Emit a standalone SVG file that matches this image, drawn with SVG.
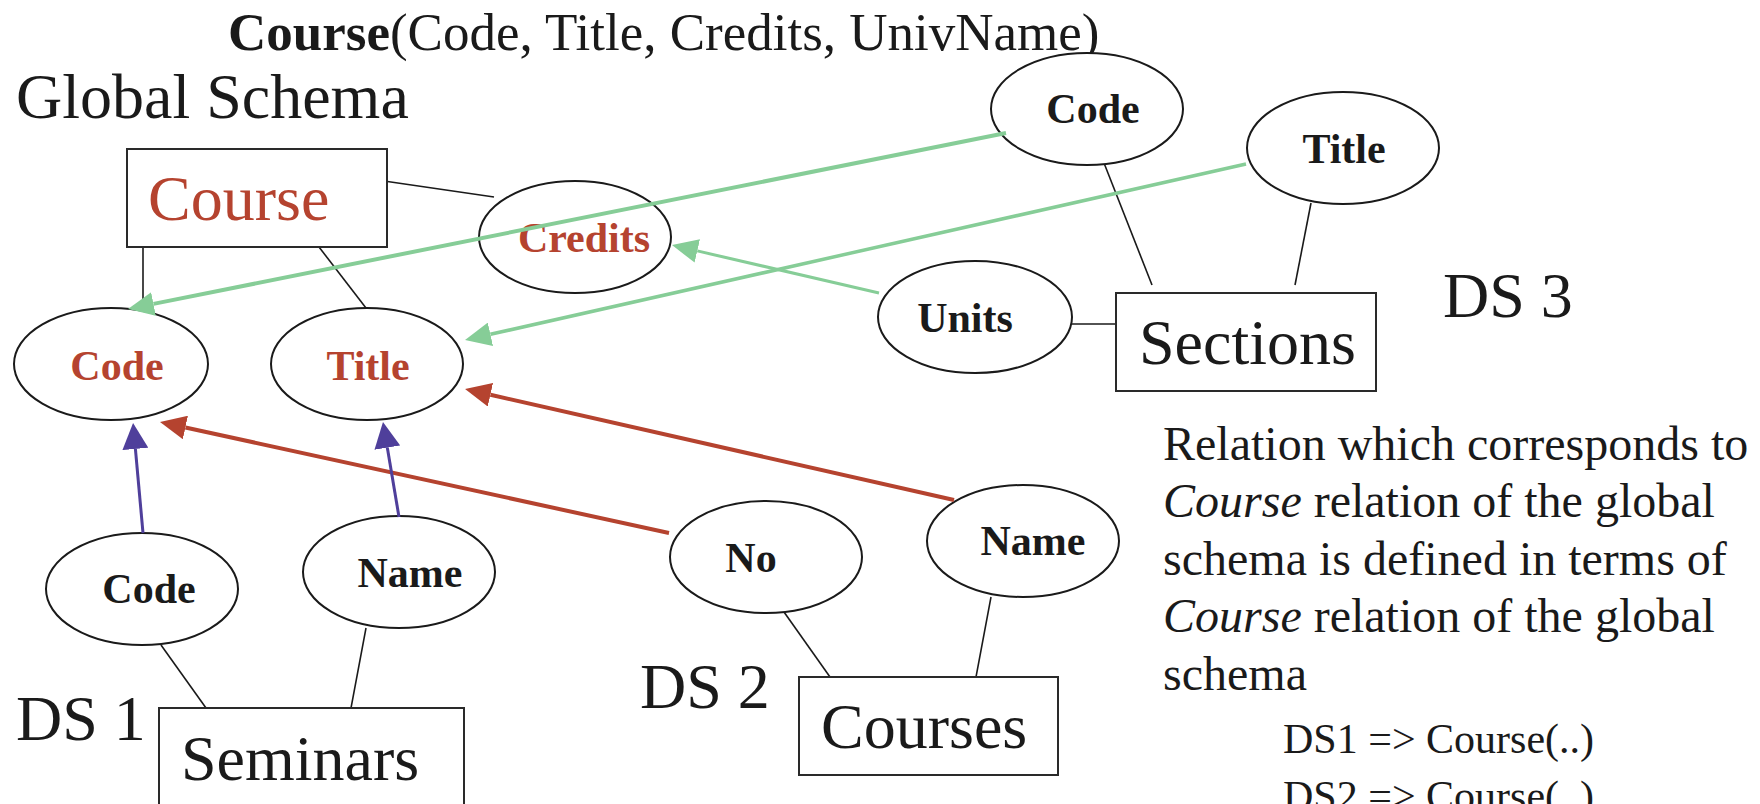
<svg xmlns="http://www.w3.org/2000/svg" width="1760" height="804" viewBox="0 0 1760 804">
  <style>
    text { font-family: "Liberation Serif", "Times New Roman", serif; fill: #1a1a1a; }
    .attr { font-size: 42px; font-weight: bold; text-anchor: middle; }
    .red { fill: #b5432f; }
    .ent { font-size: 64px; }
    .big { font-size: 64px; }
    .para { font-size: 48px; }
    .map { font-size: 42px; }
    ellipse { fill: #ffffff; stroke: #1a1a1a; stroke-width: 2; }
    rect.box { fill: #ffffff; stroke: #2a2a2a; stroke-width: 2; }
    .link { stroke: #1a1a1a; stroke-width: 1.6; fill: none; }
    .green { stroke: #86cd97; fill: none; }
    .redline { stroke: #b5432f; stroke-width: 4; fill: none; }
    .blue { stroke: #4f3f9b; stroke-width: 3; fill: none; }
  </style>
  <defs>
    <marker id="headGreen" markerUnits="userSpaceOnUse" markerWidth="27" markerHeight="24" refX="0" refY="12" orient="auto">
      <path d="M0,0 L26,12 L0,24 z" fill="#86cd97"/>
    </marker>
    <marker id="headRed" markerUnits="userSpaceOnUse" markerWidth="27" markerHeight="24" refX="0" refY="12" orient="auto">
      <path d="M0,0 L26,12 L0,24 z" fill="#b5432f"/>
    </marker>
    <marker id="headBlue" markerUnits="userSpaceOnUse" markerWidth="27" markerHeight="26" refX="0" refY="13" orient="auto">
      <path d="M0,0 L26,13 L0,26 z" fill="#4f3f9b"/>
    </marker>
  </defs>

  <rect width="1760" height="804" fill="#ffffff"/>

  <!-- headings -->
  <text x="228" y="50" font-size="53"><tspan font-weight="bold">Course</tspan>(Code, Title, Credits, UnivName)</text>
  <text x="16" y="118" class="big">Global Schema</text>
  <text x="1443" y="317" class="big">DS 3</text>
  <text x="640" y="708" class="big">DS 2</text>
  <text x="16" y="740" class="big">DS 1</text>

  <!-- entity-attribute links -->
  <g id="connectors">
    <line class="link" x1="384" y1="181" x2="494" y2="197"/>
    <line class="link" x1="143" y1="247" x2="143" y2="308"/>
    <line class="link" x1="319" y1="247" x2="366" y2="308"/>
    <line class="link" x1="1104" y1="163" x2="1152" y2="285"/>
    <line class="link" x1="1311" y1="203" x2="1295" y2="285"/>
    <line class="link" x1="1071" y1="324" x2="1118" y2="324"/>
    <line class="link" x1="161" y1="645" x2="206" y2="708"/>
    <line class="link" x1="366" y1="628" x2="351" y2="708"/>
    <line class="link" x1="784" y1="612" x2="830" y2="677"/>
    <line class="link" x1="991" y1="597" x2="976" y2="677"/>
  </g>

  <!-- nodes -->
  <g id="course">
    <rect class="box" x="127" y="149" width="260" height="98"/>
    <text x="148" y="220" class="ent red">Course</text>
  </g>
  <g id="credits">
    <ellipse cx="575" cy="237" rx="96" ry="56"/>
    <text x="584" y="252" class="attr red">Credits</text>
  </g>
  <g id="g-code">
    <ellipse cx="111" cy="364" rx="97" ry="56"/>
    <text x="117" y="380" class="attr red">Code</text>
  </g>
  <g id="g-title">
    <ellipse cx="367" cy="364" rx="96" ry="56"/>
    <text x="368" y="380" class="attr red">Title</text>
  </g>
  <g id="ds3-code">
    <ellipse cx="1087" cy="109" rx="96" ry="56"/>
    <text x="1093" y="123" class="attr">Code</text>
  </g>
  <g id="ds3-title">
    <ellipse cx="1343" cy="148" rx="96" ry="56"/>
    <text x="1344" y="163" class="attr">Title</text>
  </g>
  <g id="ds3-units">
    <ellipse cx="975" cy="317" rx="97" ry="56"/>
    <text x="965" y="332" class="attr">Units</text>
  </g>
  <g id="sections">
    <rect class="box" x="1116" y="293" width="260" height="98"/>
    <text x="1139" y="364" class="ent">Sections</text>
  </g>
  <g id="ds1-code">
    <ellipse cx="142" cy="589" rx="96" ry="56"/>
    <text x="149" y="603" class="attr">Code</text>
  </g>
  <g id="ds1-name">
    <ellipse cx="399" cy="572" rx="96" ry="56"/>
    <text x="410" y="587" class="attr">Name</text>
  </g>
  <g id="seminars">
    <rect class="box" x="159" y="708" width="305" height="130"/>
    <text x="181" y="780" class="ent">Seminars</text>
  </g>
  <g id="ds2-no">
    <ellipse cx="766" cy="557" rx="96" ry="56"/>
    <text x="751" y="572" class="attr">No</text>
  </g>
  <g id="ds2-name">
    <ellipse cx="1023" cy="541" rx="96" ry="56"/>
    <text x="1033" y="555" class="attr">Name</text>
  </g>
  <g id="courses">
    <rect class="box" x="799" y="677" width="259" height="98"/>
    <text x="821" y="748" class="ent">Courses</text>
  </g>

  <!-- mapping arrows -->
  <g id="mappings">
    <line class="green" stroke-width="4" x1="1006" y1="133" x2="153.5" y2="303.9" marker-end="url(#headGreen)"/>
    <line class="green" stroke-width="3.5" x1="1246" y1="164" x2="490.4" y2="334.3" marker-end="url(#headGreen)"/>
    <line class="green" stroke-width="3" x1="879" y1="293" x2="697.3" y2="250.9" marker-end="url(#headGreen)"/>
    <line class="redline" x1="669" y1="533" x2="185.4" y2="427.5" marker-end="url(#headRed)"/>
    <line class="redline" stroke-width="3.5" x1="954" y1="500" x2="490.4" y2="394.8" marker-end="url(#headRed)"/>
    <line class="blue" x1="143" y1="533" x2="135.4" y2="448.9" marker-end="url(#headBlue)"/>
    <line class="blue" x1="399" y1="517" x2="387.3" y2="447.6" marker-end="url(#headBlue)"/>
  </g>

  <!-- explanatory note -->
  <g id="note">
    <text x="1163" y="460" class="para">Relation which corresponds to</text>
    <text x="1163" y="517" class="para"><tspan font-style="italic">Course</tspan> relation of the global</text>
    <text x="1163" y="575" class="para">schema is defined in terms of</text>
    <text x="1163" y="632" class="para"><tspan font-style="italic">Course</tspan> relation of the global</text>
    <text x="1163" y="690" class="para">schema</text>
    <text x="1283" y="753" class="map">DS1 =&gt; Course(..)</text>
    <text x="1283" y="810" class="map">DS2 =&gt; Course(..)</text>
  </g>
</svg>
